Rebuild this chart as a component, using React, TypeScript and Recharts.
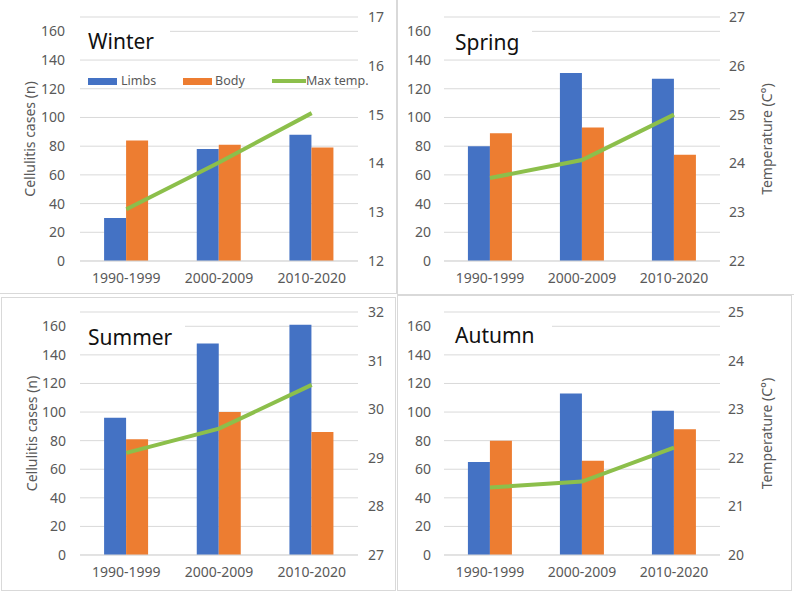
import React from 'react';
import {ComposedChart, Bar, Line, XAxis, YAxis, CartesianGrid, Legend} from 'recharts';

const periods = ['1990-1999', '2000-2009', '2010-2020'];

const winterLimbs = [30, 78, 88];
const winterBody = [84, 81, 79];
const winterTemp = [13.06, 14.02, 15.03];

const springLimbs = [80, 131, 127];
const springBody = [89, 93, 74];
const springTemp = [23.7, 24.07, 25.0];

const summerLimbs = [96, 148, 161];
const summerBody = [81, 100, 86];
const summerTemp = [29.1, 29.6, 30.5];

const autumnLimbs = [65, 113, 101];
const autumnBody = [80, 66, 88];
const autumnTemp = [21.39, 21.51, 22.21];

const countTicks = [0, 20, 40, 60, 80, 100, 120, 140, 160];
const winterTempTicks = [12, 13, 14, 15, 16, 17];
const springTempTicks = [22, 23, 24, 25, 26, 27];
const summerTempTicks = [27, 28, 29, 30, 31, 32];
const autumnTempTicks = [20, 21, 22, 23, 24, 25];

const BLUE = '#4472C4';
const ORANGE = '#ED7D31';
const GREEN = '#8CBF4B';
const GRID = '#d9d9d9';
const TEXT = '#595959';
const FONT = '"Noto Sans", "Open Sans", Arial, sans-serif';

const makeRows = (limbs: number[], body: number[], temp: number[]) =>
    periods.map((period, i) => ({period, limbs: limbs[i], body: body[i], temp: temp[i]}));

// rotated axis title, drawn in chart coordinates
const VTitle = (props: any) => {
    const {tx, ty, caption} = props;
    return (
        <text x={tx} y={ty} transform={`rotate(-90 ${tx} ${ty})`} textAnchor="middle"
              dominantBaseline="central" fill={TEXT} fontSize={14} fontFamily={FONT}>
            {caption}
        </text>
    );
};

const WinterLegend = () => {
    const label: React.CSSProperties = {position: 'absolute', top: 0, fontSize: 12.5, lineHeight: '14px', color: TEXT, whiteSpace: 'nowrap'};
    return (
        <div style={{position: 'relative', width: 290, height: 14, fontFamily: FONT}}>
            <div style={{position: 'absolute', left: 0, top: 3.5, width: 29, height: 7, background: BLUE}}/>
            <span style={{...label, left: 33}}>Limbs</span>
            <div style={{position: 'absolute', left: 95, top: 3.5, width: 29, height: 7, background: ORANGE}}/>
            <span style={{...label, left: 127}}>Body</span>
            <div style={{position: 'absolute', left: 184, top: 5, width: 34, height: 4, background: GREEN}}/>
            <span style={{...label, left: 218}}>Max temp.</span>
        </div>
    );
};

type Box = { x: number; y: number; w: number; h: number };

const Panel = (p: {
    title: string;
    rows: any[];
    tempTicks: number[];
    box: Box;
    plot: Box;
    gapL: number;
    gapR: number;
    titleBaseline: number;
    titleRight: number;
    leftTitle?: boolean;
    rightTitle?: boolean;
    legend?: boolean;
}) => {
    const {box, plot} = p;
    const WL = 40, WR = 30, XH = 25;
    const margin = {
        left: plot.x - box.x - WL,
        right: box.x + box.w - (plot.x + plot.w) - WR,
        top: plot.y - box.y,
        bottom: box.y + box.h - (plot.y + plot.h) - XH,
    };
    const midY = plot.y + plot.h / 2 - box.y;
    const tick = {fill: TEXT, fontSize: 14, fontFamily: FONT};
    return (
        <>
            <div style={{position: 'absolute', left: box.x, top: box.y}}>
                <ComposedChart width={box.w} height={box.h} data={p.rows} margin={margin}
                               barCategoryGap="26%" barGap={0}>
                    <CartesianGrid vertical={false} stroke={GRID} yAxisId="left"/>
                    <XAxis dataKey="period" height={XH} tickLine={false} axisLine={{stroke: GRID}}
                           tickMargin={6} tick={tick} interval={0}/>
                    <YAxis yAxisId="left" width={WL} domain={[0, 170]} ticks={countTicks} interval={0}
                           tickLine={false} axisLine={false} tickMargin={p.gapL - 6} tick={tick}
                           label={p.leftTitle ? <VTitle tx={30} ty={midY} caption="Cellulitis cases (n)"/> : undefined}/>
                    <YAxis yAxisId="right" orientation="right" width={WR}
                           domain={[p.tempTicks[0], p.tempTicks[p.tempTicks.length - 1]]}
                           ticks={p.tempTicks} interval={0} tickLine={false} axisLine={false}
                           tickMargin={p.gapR - 6} tick={tick}
                           label={p.rightTitle ? <VTitle tx={766 - box.x} ty={midY} caption="Temperature (C°)"/> : undefined}/>
                    {p.legend && (
                        <Legend layout="vertical" align="center" verticalAlign="middle"
                                wrapperStyle={{position: 'absolute', left: 88 - box.x, top: 74 - box.y, width: 290}}
                                content={() => <WinterLegend/>}/>
                    )}
                    <Bar yAxisId="left" dataKey="limbs" name="Limbs" fill={BLUE} isAnimationActive={false}/>
                    <Bar yAxisId="left" dataKey="body" name="Body" fill={ORANGE} isAnimationActive={false}/>
                    <Line yAxisId="right" dataKey="temp" name="Max temp." type="linear" stroke={GREEN}
                          strokeWidth={4} dot={false} activeDot={false} isAnimationActive={false}/>
                </ComposedChart>
            </div>
            {/* white title box that hides the top gridline, as in the original */}
            <div style={{
                position: 'absolute', left: plot.x, top: p.titleBaseline - 26, width: p.titleRight - plot.x,
                height: 34, background: '#fff',
            }}>
                <div style={{
                    position: 'absolute', left: p.title === 'Winter' || p.title === 'Summer' ? 8 : 11,
                    top: 26 - 18.7, fontSize: 21, lineHeight: '21px', fontFamily: FONT, color: '#111',
                    whiteSpace: 'nowrap',
                }}>{p.title}</div>
            </div>
            <div style={{
                position: 'absolute', left: box.x, top: box.y, width: box.w, height: box.h,
                boxSizing: 'border-box', border: `1px solid ${GRID}`, pointerEvents: 'none',
            }}/>
        </>
    );
};

export default function App() {
    return (
        <div style={{position: 'absolute', left: 0, top: 0, width: 794, height: 592, background: '#fff', overflow: 'hidden'}}>
            <Panel title="Winter" rows={makeRows(winterLimbs, winterBody, winterTemp)} tempTicks={winterTempTicks}
                   box={{x: -1, y: -1, w: 398, h: 295}} plot={{x: 80, y: 17, w: 278, h: 244}}
                   gapL={15} gapR={10} titleBaseline={50} titleRight={170} leftTitle legend/>
            <Panel title="Spring" rows={makeRows(springLimbs, springBody, springTemp)} tempTicks={springTempTicks}
                   box={{x: 397, y: -1, w: 398, h: 296}} plot={{x: 444, y: 17, w: 276, h: 244}}
                   gapL={13} gapR={9} titleBaseline={51} titleRight={532} rightTitle/>
            <Panel title="Summer" rows={makeRows(summerLimbs, summerBody, summerTemp)} tempTicks={summerTempTicks}
                   box={{x: 1, y: 297, w: 395, h: 294}} plot={{x: 80, y: 312, w: 278, h: 243}}
                   gapL={14} gapR={10} titleBaseline={346} titleRight={185} leftTitle/>
            <Panel title="Autumn" rows={makeRows(autumnLimbs, autumnBody, autumnTemp)} tempTicks={autumnTempTicks}
                   box={{x: 397, y: 295, w: 395, h: 296}} plot={{x: 444, y: 312, w: 276, h: 243}}
                   gapL={13} gapR={8} titleBaseline={344} titleRight={552} rightTitle/>
        </div>
    );
}
